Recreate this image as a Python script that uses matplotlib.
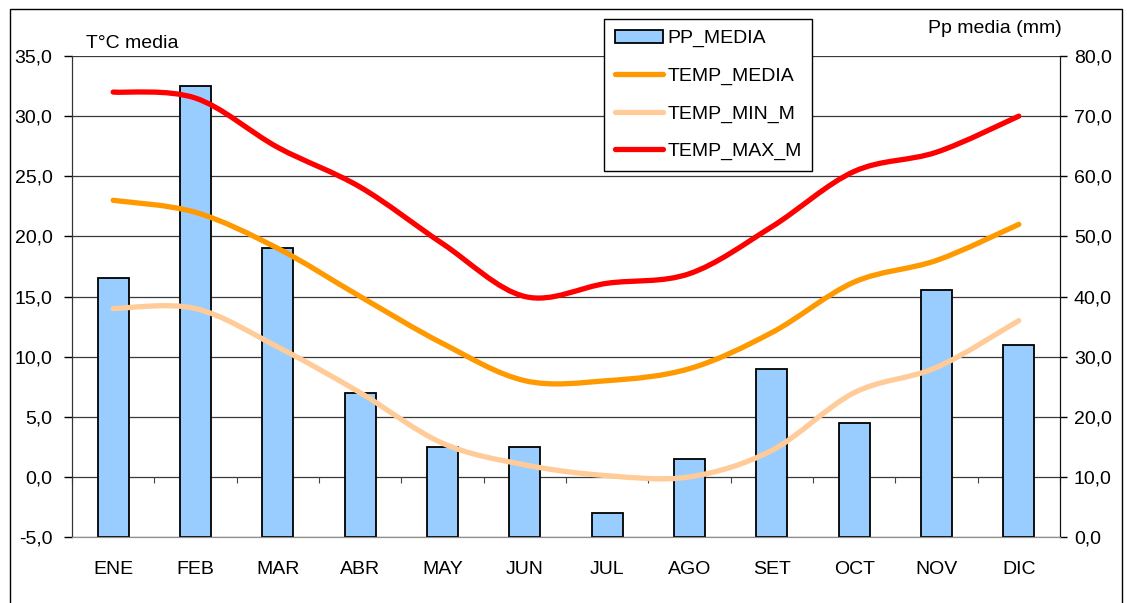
import numpy as np
import matplotlib
matplotlib.use('Agg')
import matplotlib.pyplot as plt
from matplotlib.path import Path
from matplotlib.patches import PathPatch, Patch, Rectangle
from matplotlib.lines import Line2D

plt.rcParams['font.family'] = ['Liberation Sans', 'DejaVu Sans']

# datos
meses = ['ENE', 'FEB', 'MAR', 'ABR', 'MAY', 'JUN', 'JUL', 'AGO', 'SET', 'OCT', 'NOV', 'DIC']
pp_media = [43, 75, 48, 24, 15, 15, 4, 13, 28, 19, 41, 32]
temp_media = [23.0, 22.0, 19.0, 15.0, 11.1, 8.0, 8.0, 9.0, 12.0, 16.2, 18.0, 21.0]
temp_min = [14.0, 14.0, 10.8, 7.0, 2.8, 1.0, 0.1, 0.0, 2.2, 7.0, 9.1, 13.0]
temp_max = [32.0, 31.5, 27.4, 24.1, 19.4, 15.0, 16.1, 16.9, 20.8, 25.4, 27.0, 30.0]

temp_ticks = [-5, 0, 5, 10, 15, 20, 25, 30, 35]
pp_ticks = [0, 10, 20, 30, 40, 50, 60, 70, 80]


def coma(v):
    return f'{v:.1f}'.replace('.', ',')


def curva(x, y):
    # linea suavizada tipo Excel (bezier por Catmull-Rom)
    p = np.column_stack([x, y]).astype(float)
    ext = np.vstack([p[0], p, p[-1]])
    verts = [p[0]]
    codes = [Path.MOVETO]
    for i in range(len(p) - 1):
        p0, p1, p2, p3 = ext[i], ext[i + 1], ext[i + 2], ext[i + 3]
        verts += [p1 + (p2 - p0) / 6, p2 - (p3 - p1) / 6, p2]
        codes += [Path.CURVE4] * 3
    return Path(verts, codes)


x = np.arange(len(meses))

fig = plt.figure(figsize=(11.27, 6.03), dpi=100)
ax2 = fig.add_axes([72 / 1127, 1 - 537 / 603, (1060 - 72) / 1127, (537 - 56) / 603])
ax = ax2.twinx()

# barras (eje derecho)
ax2.bar(x, pp_media, width=0.38, color='#99CCFF', edgecolor='black', linewidth=1.3, zorder=2)
ax2.set_ylim(0, 80)
ax2.set_xlim(-0.5, 11.5)
ax2.set_yticks(pp_ticks)
ax2.set_yticklabels([coma(v) for v in pp_ticks])
ax2.yaxis.grid(True, color='#3a3a3a', linewidth=0.9)
ax2.set_axisbelow(True)
ax2.set_xticks(x)
ax2.set_xticklabels(meses)
ax2.tick_params(axis='x', length=0, pad=17, labelsize=14)
ax2.yaxis.tick_right()
ax2.tick_params(axis='y', direction='out', length=5, pad=5, labelsize=14, width=1)

# lineas (eje izquierdo)
ax.set_ylim(-5, 35)
ax.yaxis.tick_left()
ax.set_yticks(temp_ticks)
ax.set_yticklabels([coma(v) for v in temp_ticks])
ax.tick_params(axis='y', direction='out', length=6, pad=8, labelsize=14, width=1)
ax.tick_params(axis='x', which='both', bottom=False, top=False, labelbottom=False, labeltop=False)
ax.set_zorder(ax2.get_zorder() + 1)
ax.patch.set_visible(False)

series = [(temp_media, '#FF9900', 'TEMP_MEDIA'),
          (temp_min, '#FFCC99', 'TEMP_MIN_M'),
          (temp_max, '#FF0000', 'TEMP_MAX_M')]
handles = [Patch(facecolor='#99CCFF', edgecolor='black', linewidth=1.3, label='PP_MEDIA')]
for vals, col, nom in series:
    ax.add_patch(PathPatch(curva(x, vals), fill=False, edgecolor=col, linewidth=3.8,
                           capstyle='round', joinstyle='round'))
    handles.append(Line2D([], [], color=col, linewidth=3.8, solid_capstyle='round', label=nom))

# marcas del eje de categorias en 0 grados
sec = ax.secondary_xaxis(0.125)
sec.set_xticks(np.arange(-0.5, 12, 1))
sec.set_xticklabels([])
sec.tick_params(direction='out', length=4, color='#444444')
sec.spines['bottom'].set_visible(False)

for a in (ax, ax2):
    a.spines['top'].set_visible(False)
    a.spines['bottom'].set_color('#909090')
    a.spines['left'].set_color('#333333')
    a.spines['right'].set_color('#111111')

fig.text(86 / 1127, 1 - 48 / 603, 'T°C media', fontsize=14, ha='left', va='baseline')
fig.text(1062 / 1127, 1 - 33 / 603, 'Pp media (mm)', fontsize=14, ha='right', va='baseline')

leg = ax.legend(handles=handles, loc='upper left', bbox_to_anchor=(604 / 1127, 1 - 19 / 603),
                bbox_transform=fig.transFigure, fontsize=14, frameon=True, fancybox=False,
                edgecolor='black', framealpha=1, borderaxespad=0, borderpad=0.55,
                labelspacing=1.02, handlelength=2.5, handletextpad=0.2)
leg.get_frame().set_linewidth(1)

fig.add_artist(Rectangle((10 / 1127, -0.05), (1122 - 10) / 1127, 1 - 9 / 603 + 0.05,
                         transform=fig.transFigure, fill=False, edgecolor='black', linewidth=1))

fig.savefig('out.png', dpi=100)
